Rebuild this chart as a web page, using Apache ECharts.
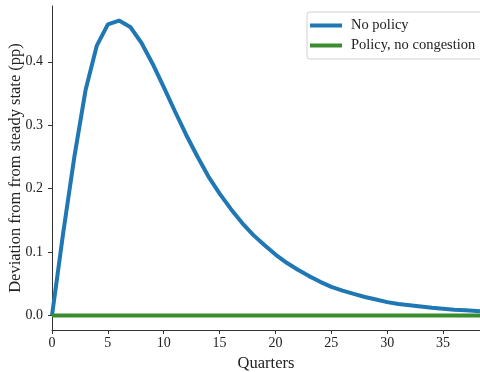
<!DOCTYPE html>
<html>
<head>
<meta charset="utf-8">
<script src="https://cdn.jsdelivr.net/npm/echarts@6/dist/echarts.min.js"></script>
<style>
  html, body { margin: 0; padding: 0; background: #fff; }
  #chart { width: 480px; height: 372px; }
</style>
</head>
<body>
<div id="chart"></div>
<script>
// Quarters after the shock
const quarters = [0,1,2,3,4,5,6,7,8,9,10,11,12,13,14,15,16,17,18,19,
                  20,21,22,23,24,25,26,27,28,29,30,31,32,33,34,35,36,37,38,39];
// Deviation from steady state (pp), no policy response
const noPolicy = [0, 0.13, 0.25, 0.355, 0.425, 0.459, 0.465, 0.455, 0.430, 0.397,
                  0.360, 0.322, 0.285, 0.251, 0.219, 0.192, 0.168, 0.146, 0.127, 0.111,
                  0.096, 0.083, 0.072, 0.062, 0.053, 0.045, 0.039, 0.034, 0.029, 0.025,
                  0.021, 0.018, 0.016, 0.014, 0.012, 0.0105, 0.009, 0.008, 0.007, 0.006];
// Deviation with policy and no congestion: stays at steady state
const policyNoCongestion = [0,0,0,0,0,0,0,0,0,0,0,0,0,0,0,0,0,0,0,0,
                            0,0,0,0,0,0,0,0,0,0,0,0,0,0,0,0,0,0,0,0];
const xTicks = [0, 5, 10, 15, 20, 25, 30, 35];
const yTicks = [0, 0.1, 0.2, 0.3, 0.4];

const serif = 'Liberation Serif';
const axisColor = '#333';

const chart = echarts.init(document.getElementById('chart'));
chart.setOption({
  animation: false,
  grid: { left: 52, right: 0, top: 6, bottom: 42, containLabel: false, outerBoundsMode: 'none' },
  legend: {
    orient: 'vertical',
    left: 307, top: 12,
    icon: 'rect',
    itemWidth: 32, itemHeight: 4,
    itemGap: 5,
    padding: [6, 12, 6, 3],
    backgroundColor: '#fff',
    borderColor: '#d0d0d0', borderWidth: 1, borderRadius: 3,
    textStyle: { fontFamily: serif, fontSize: 14.5, color: '#222', padding: [0, 0, 0, 4] },
    data: ['No policy', 'Policy, no congestion']
  },
  xAxis: {
    type: 'value', min: 0, max: 38.3,
    name: 'Quarters', nameLocation: 'middle', nameGap: 19,
    nameTextStyle: { fontFamily: serif, fontSize: 16.5, color: '#222' },
    axisLine: { show: true, onZero: false, lineStyle: { color: axisColor, width: 1 } },
    axisTick: { show: true, length: 4, customValues: xTicks, lineStyle: { color: axisColor } },
    axisLabel: { customValues: xTicks, fontFamily: serif, fontSize: 14, color: '#222', margin: 6 },
    splitLine: { show: false }
  },
  yAxis: {
    type: 'value', min: -0.023, max: 0.488,
    name: 'Deviation from from steady state (pp)', nameLocation: 'middle', nameGap: 28,
    nameMoveOverlap: false,
    nameTextStyle: { fontFamily: serif, fontSize: 16.5, color: '#222' },
    axisLine: { show: true, onZero: false, lineStyle: { color: axisColor, width: 1 } },
    axisTick: { show: true, length: 4, customValues: yTicks, lineStyle: { color: axisColor } },
    axisLabel: { customValues: yTicks, fontFamily: serif, fontSize: 14, color: '#222', margin: 9,
                 formatter: v => v.toFixed(1) },
    splitLine: { show: false }
  },
  series: [
    {
      name: 'No policy', type: 'line', showSymbol: false, clip: true,
      data: quarters.map((q, i) => [q, noPolicy[i]]),
      lineStyle: { color: '#1f77b4', width: 4 }, itemStyle: { color: '#1f77b4' }, z: 2
    },
    {
      name: 'Policy, no congestion', type: 'line', showSymbol: false, clip: true,
      data: quarters.map((q, i) => [q, policyNoCongestion[i]]),
      lineStyle: { color: '#3b8c2f', width: 4 }, itemStyle: { color: '#3b8c2f' }, z: 3
    }
  ]
});
</script>
</body>
</html>
